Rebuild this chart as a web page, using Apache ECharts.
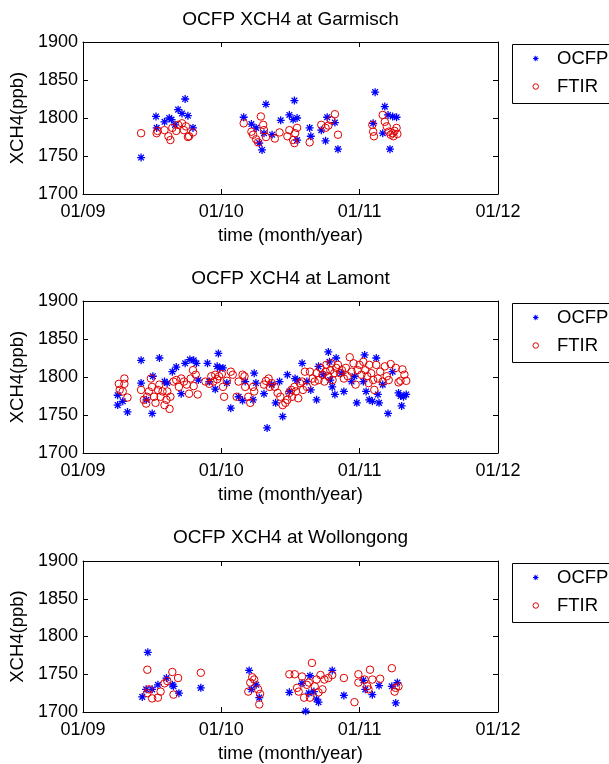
<!DOCTYPE html>
<html>
<head>
<meta charset="utf-8">
<script src="https://cdn.jsdelivr.net/npm/echarts@6/dist/echarts.min.js"></script>
<style>
html,body{margin:0;padding:0;background:#fff;}
#chart{width:609px;height:764px;}
</style>
</head>
<body>
<div id="chart"></div>
<script>
// x values: months since 01/2009
const xTickLabels = ['01/09', '01/10', '01/11', '01/12'];
const yTicks = [1700, 1750, 1800, 1850, 1900];
const stations = ['Garmisch', 'Lamont', 'Wollongong'];
const seriesNames = ['OCFP', 'FTIR'];

const garmischOCFP = [[5.04,1748],[6.33,1802],[6.39,1787],[7.07,1795],[7.48,1800],[7.68,1798],[7.98,1791],[8.25,1811],[8.59,1806],[8.86,1825],[9.1,1803],[9.54,1787],[13.94,1801],[14.61,1792],[15.02,1787],[15.53,1758],[15.87,1818],[15.29,1767],[15.7,1780],[16.4,1778],[17.15,1797],[17.9,1804],[18.34,1823],[18.23,1798],[18.57,1800],[18.57,1771],[19.66,1787],[19.76,1776],[20.67,1784],[21.04,1770],[21.18,1801],[21.85,1794],[22.12,1759],[25.34,1834],[26.18,1815],[26.46,1804],[26.86,1802],[27.2,1801],[26.63,1759],[26.0,1780],[25.17,1793]];
const garmischFTIR = [[5.04,1780],[6.39,1780],[6.46,1783],[7.07,1784],[7.41,1776],[7.58,1771],[7.75,1787],[8.09,1783],[8.25,1791],[8.59,1793],[8.76,1784],[9.1,1775],[8.93,1789],[9.54,1781],[9.2,1776],[13.94,1793],[14.61,1782],[14.75,1778],[15.02,1772],[15.19,1768],[15.43,1802],[15.63,1791],[15.7,1784],[15.87,1775],[16.64,1773],[17.05,1781],[17.73,1776],[17.9,1784],[18.23,1771],[18.4,1780],[18.57,1787],[18.34,1767],[19.66,1768],[20.67,1791],[21.04,1787],[21.28,1790],[21.52,1797],[21.85,1805],[22.12,1778],[25.1,1791],[25.17,1782],[25.24,1776],[26.0,1804],[26.18,1795],[26.35,1789],[26.52,1782],[26.69,1778],[26.86,1780],[27.03,1783],[27.2,1787],[27.27,1779],[26.93,1776]];

const lamontOCFP = [[3.01,1776],[3.01,1763],[3.45,1768],[3.86,1754],[5.04,1822],[5.04,1792],[5.5,1770],[6.0,1752],[6.06,1801],[6.63,1825],[7.07,1794],[7.3,1792],[7.75,1807],[8.09,1813],[8.52,1778],[8.86,1818],[9.27,1823],[9.6,1822],[9.84,1818],[10.0,1796],[10.8,1818],[10.96,1794],[11.47,1784],[11.64,1814],[11.74,1831],[11.87,1812],[12.14,1812],[12.48,1792],[12.82,1759],[13.5,1774],[13.84,1769],[14.07,1794],[14.75,1770],[14.85,1805],[15.0,1792],[15.7,1778],[15.97,1733],[16.37,1790],[16.71,1766],[17.05,1794],[17.32,1748],[17.73,1803],[17.9,1781],[18.4,1798],[18.57,1796],[19.01,1818],[19.42,1794],[19.76,1783],[20.26,1770],[20.43,1814],[20.84,1803],[21.28,1833],[21.38,1820],[21.45,1796],[21.62,1787],[21.96,1825],[21.85,1777],[22.4,1805],[22.63,1781],[23.3,1794],[23.55,1801],[23.75,1766],[24.43,1829],[24.32,1794],[24.56,1781],[24.83,1770],[25.1,1768],[25.44,1825],[25.58,1777],[25.68,1766],[26.0,1790],[26.46,1752],[26.86,1807],[27.37,1779],[27.64,1762],[27.8,1774],[28.04,1777],[27.55,1775]];
const lamontFTIR = [[3.11,1791],[3.18,1783],[3.59,1798],[3.59,1791],[3.45,1781],[3.86,1773],[5.04,1783],[5.28,1770],[5.48,1765],[5.55,1774],[5.72,1781],[5.89,1798],[5.99,1787],[6.16,1774],[6.29,1766],[6.5,1783],[6.63,1790],[6.73,1774],[6.9,1781],[7.07,1763],[7.24,1770],[7.31,1781],[7.51,1758],[7.58,1774],[7.85,1794],[8.09,1796],[8.32,1787],[8.52,1798],[8.76,1794],[9.0,1790],[9.2,1778],[9.34,1798],[9.54,1809],[9.6,1788],[9.78,1803],[9.95,1777],[10.62,1794],[10.96,1791],[11.13,1801],[11.3,1794],[11.47,1803],[11.64,1797],[11.8,1801],[12.04,1804],[12.14,1787],[12.24,1774],[12.48,1795],[12.82,1807],[12.99,1803],[13.33,1774],[13.5,1794],[13.84,1803],[14.01,1801],[14.07,1787],[14.34,1774],[14.51,1766],[14.75,1787],[14.85,1781],[15.7,1790],[15.87,1795],[16.1,1798],[16.2,1787],[16.37,1792],[16.64,1787],[16.88,1779],[17.12,1774],[17.32,1763],[17.56,1766],[17.73,1770],[17.9,1779],[18.07,1783],[18.13,1774],[18.34,1787],[18.47,1781],[18.67,1772],[18.81,1792],[19.01,1794],[19.08,1783],[19.25,1807],[19.42,1787],[19.69,1807],[19.93,1798],[20.1,1794],[20.26,1805],[20.43,1796],[20.6,1812],[20.77,1803],[20.94,1794],[21.04,1807],[21.11,1816],[21.28,1801],[21.45,1809],[21.52,1818],[21.65,1796],[21.79,1805],[21.96,1812],[22.12,1816],[22.29,1805],[22.46,1809],[22.63,1798],[22.8,1812],[22.97,1801],[23.14,1826],[23.3,1807],[23.47,1818],[23.65,1790],[23.82,1809],[23.99,1816],[24.15,1803],[24.32,1820],[24.49,1809],[24.66,1801],[24.77,1792],[24.83,1816],[25.0,1805],[25.17,1796],[25.27,1783],[25.44,1816],[25.58,1798],[25.78,1807],[26.0,1794],[26.18,1814],[26.35,1801],[26.52,1796],[27.13,1812],[26.69,1817],[27.71,1810],[27.88,1803],[27.37,1793],[27.54,1795],[28.04,1795]];

const wollongongOCFP = [[5.14,1720],[5.48,1730],[5.62,1779],[6.0,1730],[6.5,1736],[7.24,1745],[7.75,1736],[7.85,1734],[8.32,1725],[10.22,1732],[14.41,1755],[14.61,1730],[15.02,1736],[15.29,1719],[17.9,1726],[19.0,1738],[19.32,1701],[19.59,1725],[19.69,1748],[20.03,1727],[20.26,1717],[20.43,1713],[21.62,1755],[22.63,1722],[24.32,1742],[24.49,1730],[25.1,1723],[25.68,1735],[26.79,1734],[27.13,1712],[27.27,1739]];
const wollongongFTIR = [[5.58,1756],[5.58,1725],[5.72,1730],[6.0,1718],[6.5,1719],[6.73,1727],[7.07,1738],[7.31,1741],[7.75,1753],[7.85,1723],[8.25,1745],[10.22,1752],[14.34,1727],[14.51,1739],[14.68,1746],[14.85,1743],[15.19,1730],[15.36,1724],[15.29,1710],[17.9,1750],[18.37,1750],[18.57,1732],[18.71,1727],[19.0,1747],[19.18,1719],[19.42,1736],[19.59,1739],[19.69,1719],[19.86,1765],[20.1,1734],[20.26,1743],[20.43,1726],[20.6,1749],[20.77,1730],[20.94,1743],[21.28,1745],[21.62,1749],[22.63,1745],[23.55,1713],[23.89,1750],[23.89,1739],[24.43,1743],[24.66,1734],[24.76,1730],[24.9,1756],[25.1,1743],[25.78,1744],[26.79,1758],[27.03,1727],[27.13,1732],[27.37,1734]];

const ocfpData = [garmischOCFP, lamontOCFP, wollongongOCFP];
const ftirData = [garmischFTIR, lamontFTIR, wollongongFTIR];

const FONT = 'Liberation Sans, Arial, Helvetica, sans-serif';
const BLUE = '#0000ff';
const RED = '#e00000';
const STAR = 'path://M-0.8,-5L0.8,-5L0.8,5L-0.8,5Z M-5,-0.8L5,-0.8L5,0.8L-5,0.8Z M-4.11,-2.97L-2.97,-4.11L4.11,2.97L2.97,4.11Z M-2.97,4.11L-4.11,2.97L2.97,-4.11L4.11,-2.97Z';

const panelTops = [42, 301, 561];
const panelHeights = [152, 152, 151];
const titleCenters = [20, 279, 538];
const gridLeft = 83, gridWidth = 415;

const grids = [], xAxes = [], yAxes = [], series = [], titles = [], legends = [], graphics = [];
const xMin = 0, xMax = 36, xInt = 12;

for (let i = 0; i < 3; i++) {
  grids.push({left: gridLeft, top: panelTops[i], width: gridWidth, height: panelHeights[i]});
  titles.push({
    text: 'OCFP XCH4 at ' + stations[i],
    left: gridLeft + gridWidth / 2, top: titleCenters[i] - 10, textAlign: 'center', padding: 0,
    textStyle: {fontFamily: FONT, fontSize: 19, fontWeight: 'normal', color: '#000'}
  });
  const axLine = {show: true, onZero: false, lineStyle: {color: '#000', width: 1}};
  const tick = {show: true, inside: true, length: 5, lineStyle: {color: '#000'}};
  xAxes.push({
    type: 'value', gridIndex: i, min: xMin, max: xMax, interval: xInt, position: 'bottom',
    axisLine: axLine, axisTick: tick, splitLine: {show: false},
    axisLabel: {color: '#000', fontFamily: FONT, fontSize: 18, margin: 9,
      formatter: v => xTickLabels[Math.round(v / xInt)]},
    name: 'time (month/year)', nameLocation: 'middle', nameGap: 32,
    nameTextStyle: {color: '#000', fontFamily: FONT, fontSize: 18.5}
  });
  xAxes.push({
    type: 'value', gridIndex: i, min: xMin, max: xMax, interval: xInt, position: 'top',
    axisLine: axLine, axisTick: tick, splitLine: {show: false}, axisLabel: {show: false}
  });
  yAxes.push({
    type: 'value', gridIndex: i, min: yTicks[0], max: yTicks[yTicks.length - 1], interval: 50, position: 'left',
    axisLine: axLine, axisTick: tick, splitLine: {show: false},
    axisLabel: {color: '#000', fontFamily: FONT, fontSize: 18, margin: 5, formatter: v => String(v)},
    name: 'XCH4(ppb)', nameLocation: 'middle', nameGap: 51,
    nameTextStyle: {color: '#000', fontFamily: FONT, fontSize: 18.5}
  });
  yAxes.push({
    type: 'value', gridIndex: i, min: yTicks[0], max: yTicks[yTicks.length - 1], interval: 50, position: 'right',
    axisLine: axLine, axisTick: tick, splitLine: {show: false}, axisLabel: {show: false}
  });
  series.push({
    name: seriesNames[0], type: 'scatter', xAxisIndex: 2 * i, yAxisIndex: 2 * i,
    symbol: STAR, symbolSize: 8, itemStyle: {color: BLUE, opacity: 1},
    data: ocfpData[i], z: 2
  });
  series.push({
    name: seriesNames[1], type: 'scatter', xAxisIndex: 2 * i, yAxisIndex: 2 * i,
    symbol: 'circle', symbolSize: 7.5,
    itemStyle: {color: 'rgba(0,0,0,0)', borderColor: RED, borderWidth: 1, opacity: 1},
    data: ftirData[i], z: 3
  });
  graphics.push({
    type: 'rect', left: 510, top: panelTops[i], silent: true,
    shape: {width: 200, height: 59},
    style: {fill: 'none', stroke: '#000', lineWidth: 1}
  });
  legends.push({
    data: seriesNames, orient: 'vertical', left: 532.5, top: panelTops[i] + 7, padding: 0,
    itemWidth: 5.5, itemHeight: 5.5, itemGap: 9, selectedMode: false,
    itemStyle: {borderWidth: 1},
    textStyle: {fontFamily: FONT, fontSize: 18.5, color: '#000', padding: [0, 0, 0, 13.5]}
  });
}

const chart = echarts.init(document.getElementById('chart'), null, {renderer: 'canvas'});
chart.setOption({
  animation: false,
  backgroundColor: '#fff',
  title: titles,
  legend: legends,
  grid: grids,
  xAxis: xAxes,
  yAxis: yAxes,
  series: series,
  graphic: graphics
});
</script>
</body>
</html>
